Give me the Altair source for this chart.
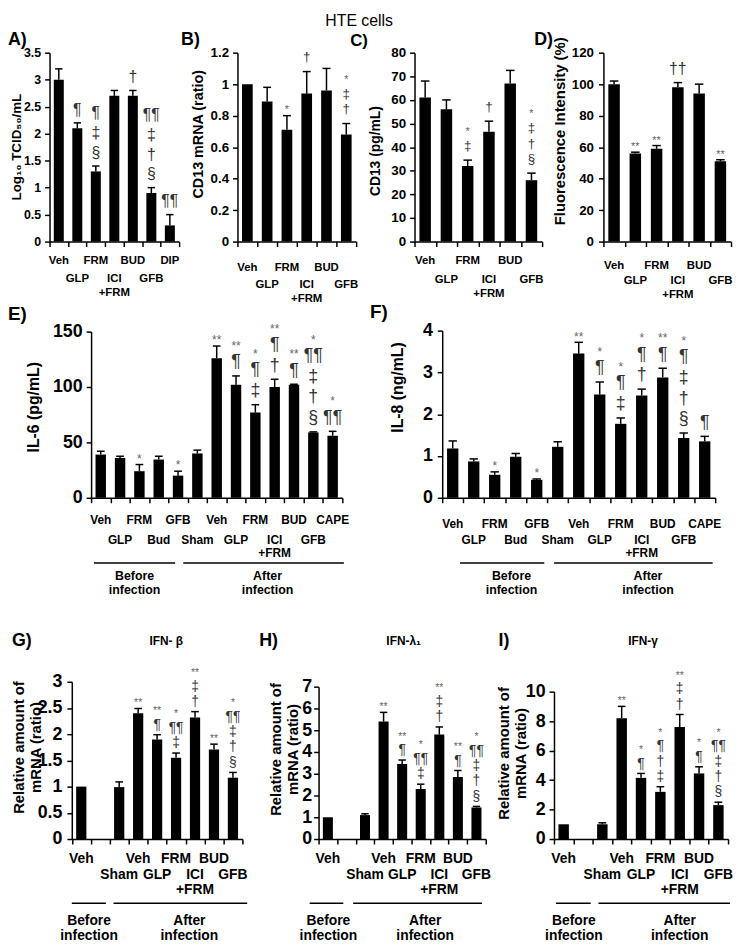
import altair as alt
import pandas as pd

FONT = "Liberation Sans"
W, H = 734, 940


def X(px):
    return max(px - 8, 0)


def Y(py):
    return py - 8


# ---------------- data ----------------
A_cats = ["Veh", "GLP", "FRM", "ICI+FRM", "BUD", "GFB", "DIP"]
A_vals = [3.0, 2.1, 1.3, 2.7, 2.7, 0.9, 0.3]
A_errs = [0.2, 0.1, 0.1, 0.1, 0.1, 0.1, 0.2]
A_sig = ["", "¶", "¶ ‡ §", "", "†", "¶¶ ‡ † §", "¶¶"]

B_cats = ["Veh", "GLP", "FRM", "ICI+FRM", "BUD", "GFB"]
B_vals = [1.0, 0.89, 0.71, 0.94, 0.96, 0.68]
B_errs = [0.0, 0.09, 0.09, 0.14, 0.14, 0.07]
B_sig = ["", "", "*", "†", "", "* ‡ †"]

C_cats = ["Veh", "GLP", "FRM", "ICI+FRM", "BUD", "GFB"]
C_vals = [61, 56, 32, 46.5, 67, 26]
C_errs = [7, 4, 2.5, 4.5, 5.5, 3]
C_sig = ["", "", "* ‡", "†", "", "* ‡ † §"]

D_cats = ["Veh", "GLP", "FRM", "ICI+FRM", "BUD", "GFB"]
D_vals = [100, 56, 59, 98, 94, 51]
D_errs = [2, 0.8, 2, 3, 6, 1]
D_sig = ["", "**", "**", "††", "", "**"]

EF_cats = ["Veh", "GLP", "FRM", "Bud", "GFB", "Sham", "Veh", "GLP", "FRM",
           "ICI+FRM", "BUD", "GFB", "CAPE"]
E_vals = [39, 36, 24, 34.5, 20, 40, 126, 102, 77, 100, 102, 59, 56]
E_errs = [3, 1.5, 6, 3, 4, 3, 11, 8, 7, 7, 0.5, 0.5, 4]
E_sig = ["", "", "*", "", "*", "", "**", "** ¶", "* ¶ ‡", "** ¶ †", "** ¶",
         "* ¶¶ ‡ † §", "* ¶¶"]

F_vals = [1.18, 0.87, 0.55, 0.98, 0.43, 1.22, 3.45, 2.47, 1.77, 2.45, 2.88, 1.43, 1.35]
F_errs = [0.18, 0.06, 0.07, 0.08, 0.02, 0.12, 0.27, 0.3, 0.14, 0.15, 0.22, 0.12, 0.12]
F_sig = ["", "", "*", "", "*", "", "**", "* ¶", "* ¶ ‡", "* ¶ †", "** ¶",
         "* ¶ ‡ † §", "¶"]

GHI_cats = ["Veh", "", "Sham", "Veh", "GLP", "FRM", "ICI+FRM", "BUD", "GFB"]
G_vals = [1.0, None, 0.99, 2.4, 1.9, 1.55, 2.32, 1.71, 1.17]
G_errs = [0.0, 0.0, 0.1, 0.09, 0.09, 0.09, 0.11, 0.1, 0.1]
G_sig = ["", "", "", "**", "** ¶", "* ¶¶ ‡", "** ‡ †", "**", "* ¶¶ ‡ † §"]

H_vals = [1.0, None, 1.1, 5.4, 3.45, 2.3, 4.8, 2.85, 1.45]
H_errs = [0.0, 0.0, 0.06, 0.42, 0.18, 0.22, 0.35, 0.3, 0.05]
H_sig = ["", "", "", "**", "** ¶", "* ¶¶ ‡", "** ‡ †", "** ¶", "* ¶¶ ‡ † §"]

I_vals = [1.0, None, 1.0, 8.2, 4.15, 3.2, 7.6, 4.45, 2.3]
I_errs = [0.0, 0.0, 0.1, 0.8, 0.3, 0.35, 0.85, 0.45, 0.2]
I_sig = ["", "", "", "**", "* ¶", "* ¶ † ‡", "** ‡ †", "* ¶", "* ¶¶ ‡ † §"]

GROUP_LABELS = ["Before\ninfection", "After\ninfection"]

PANEL_LETTERS = ["A)", "B)", "C)", "D)", "E)", "F)", "G)", "H)", "I)"]
IFN_TITLES = ["IFN- β", "IFN-λ₁", "IFN-γ"]
MAIN_TITLE = "HTE cells"

# ---------------- layout / style (image pixel coordinates) ----------------
R1 = dict(yb=239, yt=48, labfs=11.5, lablh=14, lfs=13.5)
R2 = dict(yb=498, labfs=12, lablh=13.5, lfs=18, tfs=16, ry=564, gy=577, gfs=12.5, glh=14)
R3 = dict(yb=843, labfs=14, lablh=16, lfs=18, tfs=15, ry=908, gy=925, gfs=14, glh=15,
          lab=(862, 878), lines=[1, 0, 2, 1, 2, 1, 2, 1, 2], sym="r3")
REL_TITLE = ["Relative amount of", "mRNA (ratio)"]

LAYOUT = {
    "A": dict(R1, x0=50, x1=181, ymax=3.5, step=0.5, title="Log₁₀ TCID₅₀/mL", tfs=13.5,
              tx=16.5, ty=143, lpad=4, lfs=12.5, lab=(258, 276),
              lines=[1, 2, 1, 2, 1, 2, 1], sym="r1"),
    "B": dict(R1, x0=240, x1=360, ymax=1.2, step=0.2, title="CD13 mRNA  (ratio)", tfs=14.5,
              tx=201, ty=130, lpad=4, lab=(265, 282), lines=[1, 2, 1, 2, 1, 2], sym="r1s"),
    "C": dict(R1, x0=419, x1=548, ymax=80, step=10, title="CD13 (pg/mL)", tfs=14,
              tx=380, ty=147, lpad=4, lab=(258, 277), lines=[1, 2, 1, 2, 1, 2], sym="r1s"),
    "D": dict(R1, x0=610, x1=739, ymax=120, step=20, title="Fluorescence Intensity (%)",
              tfs=15, tx=566, ty=127, lpad=5, lab=(263, 278), lines=[1, 2, 1, 2, 1, 2],
              sym="r1"),
    "E": dict(R2, x0=92, x1=346, yt=330, ymax=150, step=50, title="IL-6 (pg/mL)",
              tx=34, ty=406, lpad=4, lab=(521, 541), lines=[1, 2] * 6 + [1],
              sym="r2", spans=[(-0.35, 3.85, 1.75), (4.27, 12.58, 8.63)]),
    "F": dict(R2, x0=447, x1=723, yt=329, ymax=4, step=1, title="IL-8 (ng/mL)",
              tx=402, ty=386, lpad=5, lab=(525, 541), lines=[1, 2] * 6 + [1],
              sym="r2", spans=[(0.35, 4.36, 2.8), (4.83, 12.38, 9.3)]),
    "G": dict(R3, x0=72.5, x1=245, yt=684, ymax=3, step=0.5, title=REL_TITLE,
              tx=19, ty=750, lpad=5, spans=[(-0.5, 1.3, 0.41), (1.7, 8.75, 5.7)]),
    "H": dict(R3, x0=322, x1=491, yt=689, ymax=7, step=1, title=REL_TITLE,
              tx=279, ty=752, lpad=2, spans=[(-0.98, 0.83, 0.03), (1.36, 8.3, 5.24)]),
    "I": dict(R3, x0=560, x1=736, yt=694, ymax=10, step=2, title=REL_TITLE,
              tx=509, ty=756, lpad=4, spans=[(-0.4, 1.4, 0.53), (1.8, 8.6, 6.0)]),
}

# significance-symbol stacks: block font / line height / gap to error cap,
# star font, star distance above the block, star-only distance above the cap
SYM = {
    "r1": dict(fs=16, lh=20, pad=5.5, sfs=11, sgap=18, sonly=8),
    "r1s": dict(fs=13.5, lh=15.5, pad=8, sfs=11, sgap=17, sonly=9),
    "r2": dict(fs=18, lh=21, pad=5, sfs=12, sgap=20, sonly=9),
    "r3": dict(fs=14, lh=15.5, pad=3, sfs=10.5, sgap=17, sonly=8),
}

LETTER_POS = [(8, 35, 18), (183, 35, 18), (354, 36, 17), (540, 35, 18), (8, 312, 19),
              (374, 310, 19), (12, 643, 18), (262, 643, 18), (504, 643, 18)]
IFN_POS = [(168, 643), (408, 643), (650, 643)]
TITLE_POS = (363, 21.5, 16)


def make_panel(key, cats, vals, errs, sigs):
    L = LAYOUT[key]
    S = SYM[L["sym"]]
    n = len(cats)
    ppu = (L["yb"] - L["yt"]) / L["ymax"]

    def xs():
        return alt.Scale(domain=[-0.5, n - 0.5], range=[X(L["x0"]), X(L["x1"])],
                         nice=False, zero=False)

    def ys():
        return alt.Scale(domain=[0, L["ymax"]], range=[Y(L["yb"]), Y(L["yt"])],
                         nice=False, zero=False)

    nt = int(round(L["ymax"] / L["step"]))
    yticks = [round(k * L["step"], 6) for k in range(nt + 1)]
    xticks = [i - 0.5 for i in range(n + 1)]

    bars, blocks, stars, labs = [], [], [], []
    for i, (c, v, e, s) in enumerate(zip(cats, vals, errs, sigs)):
        if c:
            labs.append(dict(i=i, t=c.replace("+", "\n+"), line=L["lines"][i]))
        if v is None:
            continue
        top = v + e
        bars.append(dict(i=i, v=v, e=e, top=top, zero=0.0,
                         x0=i - 0.27, x1=i + 0.27, c0=i - 0.2, c1=i + 0.2))
        toks = s.split()
        star = [t for t in toks if t.startswith("*")]
        rest = [t for t in toks if not t.startswith("*")]
        if rest:
            m = len(rest)
            anchor = S["pad"] + 0.99 * S["fs"] + (m - 1) * S["lh"]
            blocks.append(dict(i=i, t="\n".join(rest), yv=top + anchor / ppu))
            star_ctr = S["pad"] + 0.47 * S["fs"] + (m - 1) * S["lh"] + S["sgap"]
        else:
            star_ctr = S["sonly"]
        if star:
            stars.append(dict(i=i, t=star[0], yv=top + (star_ctr - 0.27 * S["sfs"]) / ppu))
    dfb = pd.DataFrame(bars)
    dfe = dfb[dfb.e > 0]
    dfk = pd.DataFrame(blocks)
    dfs = pd.DataFrame(stars)
    dfl = pd.DataFrame(labs)

    yaxis = alt.Axis(orient="left", offset=-X(L["x0"]), values=yticks,
                     labelExpr="'' + datum.value",
                     title=L["title"], titleX=L["tx"] - L["x0"], titleY=Y(L["ty"]),
                     titleAngle=270, titleAlign="center", titleBaseline="middle",
                     titleFontSize=L["tfs"], titleLineHeight=17, zindex=1,
                     labelFontSize=L["lfs"], labelPadding=L["lpad"])
    xaxis = alt.Axis(orient="bottom", offset=Y(L["yb"]) - H, values=xticks,
                     labels=False, title=None, zindex=1)

    layers = [
        alt.Chart(dfb).mark_bar(color="black").encode(
            x=alt.X("x0:Q", scale=xs(), axis=xaxis), x2="x1:Q",
            y=alt.Y("v:Q", scale=ys(), axis=yaxis), y2="zero:Q"),
        alt.Chart(dfe).mark_rule(color="black", strokeWidth=1.5).encode(
            x=alt.X("i:Q", scale=xs(), axis=None),
            y=alt.Y("v:Q", scale=ys(), axis=None), y2="top:Q"),
        alt.Chart(dfe).mark_rule(color="black", strokeWidth=1.5).encode(
            x=alt.X("c0:Q", scale=xs(), axis=None), x2="c1:Q",
            y=alt.Y("top:Q", scale=ys(), axis=None)),
    ]
    if len(dfk):
        layers.append(
            alt.Chart(dfk).mark_text(font=FONT, fontSize=S["fs"], lineBreak="\n",
                                     lineHeight=S["lh"], baseline="top", align="center",
                                     color="#333333").encode(
                x=alt.X("i:Q", scale=xs(), axis=None),
                y=alt.Y("yv:Q", scale=ys(), axis=None),
                text="t:N"))
    if len(dfs):
        layers.append(
            alt.Chart(dfs).mark_text(font=FONT, fontSize=S["sfs"], baseline="middle",
                                     align="center", color="#666666").encode(
                x=alt.X("i:Q", scale=xs(), axis=None),
                y=alt.Y("yv:Q", scale=ys(), axis=None),
                text="t:N"))
    for k, ly in zip((1, 2), L["lab"]):
        sub = dfl[dfl.line == k]
        layers.append(
            alt.Chart(sub).mark_text(font=FONT, fontWeight="bold", fontSize=L["labfs"],
                                     lineBreak="\n", lineHeight=L["lablh"], baseline="top",
                                     align="center", color="black").encode(
                x=alt.X("i:Q", scale=xs(), axis=None),
                y=alt.value(Y(ly) - 0.43 * L["labfs"]),
                text="t:N"))
    if "spans" in L:
        dg = pd.DataFrame([dict(s=a, e=b, c=c, t=t)
                           for (a, b, c), t in zip(L["spans"], GROUP_LABELS)])
        layers.append(
            alt.Chart(dg).mark_rule(color="black", strokeWidth=1.6).encode(
                x=alt.X("s:Q", scale=xs(), axis=None), x2="e:Q", y=alt.value(Y(L["ry"]))))
        layers.append(
            alt.Chart(dg).mark_text(font=FONT, fontWeight="bold", fontSize=L["gfs"],
                                    lineBreak="\n", lineHeight=L["glh"], baseline="top",
                                    align="center", color="black").encode(
                x=alt.X("c:Q", scale=xs(), axis=None),
                y=alt.value(Y(L["gy"]) - 0.43 * L["gfs"]),
                text="t:N"))
    return layers


all_layers = []
all_layers += make_panel("A", A_cats, A_vals, A_errs, A_sig)
all_layers += make_panel("B", B_cats, B_vals, B_errs, B_sig)
all_layers += make_panel("C", C_cats, C_vals, C_errs, C_sig)
all_layers += make_panel("D", D_cats, D_vals, D_errs, D_sig)
all_layers += make_panel("E", EF_cats, E_vals, E_errs, E_sig)
all_layers += make_panel("F", EF_cats, F_vals, F_errs, F_sig)
all_layers += make_panel("G", GHI_cats, G_vals, G_errs, G_sig)
all_layers += make_panel("H", GHI_cats, H_vals, H_errs, H_sig)
all_layers += make_panel("I", GHI_cats, I_vals, I_errs, I_sig)

for t, (px, py, fs) in zip(PANEL_LETTERS, LETTER_POS):
    all_layers.append(alt.Chart(pd.DataFrame({"t": [t]})).mark_text(
        font=FONT, fontWeight="bold", fontSize=fs, align="left", baseline="middle",
        color="black").encode(x=alt.value(X(px)), y=alt.value(Y(py)), text="t:N"))
for t, (px, py) in zip(IFN_TITLES, IFN_POS):
    all_layers.append(alt.Chart(pd.DataFrame({"t": [t]})).mark_text(
        font=FONT, fontWeight="bold", fontSize=12, align="center", baseline="middle",
        color="black").encode(x=alt.value(X(px)), y=alt.value(Y(py)), text="t:N"))
all_layers.append(alt.Chart(pd.DataFrame({"t": [MAIN_TITLE]})).mark_text(
    font=FONT, fontSize=TITLE_POS[2], align="center", baseline="alphabetic",
    color="black").encode(
    x=alt.value(X(TITLE_POS[0])), y=alt.value(Y(TITLE_POS[1])), text="t:N"))

chart = (
    alt.layer(*all_layers)
    .resolve_scale(x="independent", y="independent")
    .properties(width=W, height=H, padding=0, autosize=alt.AutoSizeParams(type="none"))
    .configure_view(stroke=None)
    .configure_axis(grid=False, domainColor="black", tickColor="black", labelColor="black",
                    titleColor="black", domainWidth=1.5, tickWidth=1.5, tickSize=5,
                    labelFont=FONT, titleFont=FONT, labelFontWeight="bold",
                    titleFontWeight="bold")
)

chart.save("out.html", embed_options={"renderer": "svg", "actions": False})
